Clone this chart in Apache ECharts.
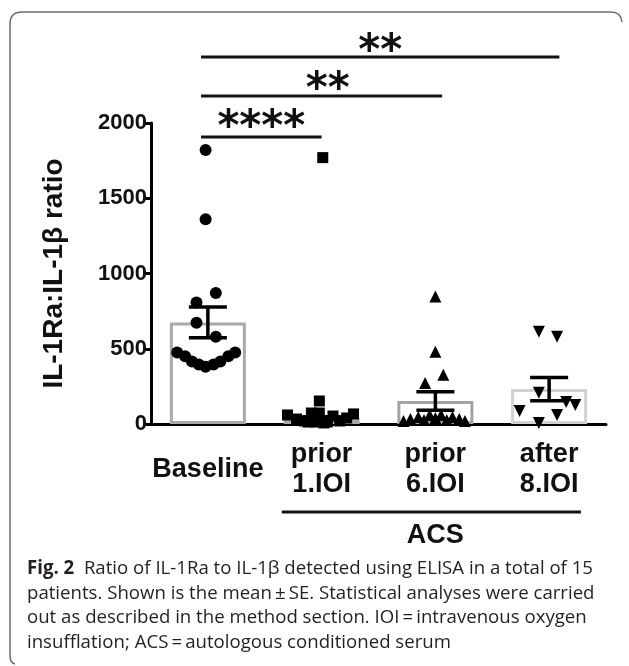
<!DOCTYPE html>
<html><head><meta charset="utf-8">
<script src="https://cdn.jsdelivr.net/npm/echarts@6/dist/echarts.min.js"></script>
<style>html,body{margin:0;padding:0;background:#fff;}#chart{width:629px;height:666px;}</style>
</head><body><div id="chart"></div>
<script>
// ---- data ----
const categories = ['Baseline', 'prior\n1.IOI', 'prior\n6.IOI', 'after\n8.IOI'];
const yTicks = [0, 500, 1000, 1500, 2000];
const means = [675, 40, 153, 232];
const stdErr = [102, 8, 62, 77];
const baselineValues = [1820, 1360, 870, 807, 673, 580, 475, 450, 415, 395, 380, 395, 415, 450, 475];
const baselineJitter = [-0.02, -0.02, 0.07, -0.10, -0.10, 0.07, -0.27, -0.20, -0.14, -0.08, -0.02, 0.05, 0.11, 0.18, 0.24];
const prior1Values = [1770, 153, 73, 73, 60, 33, 20, 13, 53, 20, 40, 67, 13, 7, 13];
const prior1Jitter = [0.01, -0.02, -0.09, -0.02, -0.30, -0.22, -0.15, 0.05, 0.10, 0.16, 0.22, 0.28, -0.05, 0.02, -0.12];
const prior6Values = [847, 480, 273, 327, 20, 33, 47, 27, 60, 40, 60, 27, 47, 33, 20];
const prior6Jitter = [0.0, 0.0, -0.09, 0.07, -0.28, -0.22, -0.15, -0.10, -0.05, 0.0, 0.05, 0.10, 0.15, 0.21, 0.26];
const after8Values = [613, 580, 207, 87, 147, 127, 60, 7];
const after8Jitter = [-0.09, 0.07, -0.09, -0.26, 0.15, 0.23, 0.07, -0.09];
const comparisons = [
  { from: 0, to: 1, label: '****' },
  { from: 0, to: 2, label: '**' },
  { from: 0, to: 3, label: '**' }
];
const groupLabel = 'ACS';
const yName = 'IL-1Ra:IL-1β ratio';
const captionBold = 'Fig. 2';
const captionLines = [
  '  Ratio of IL-1Ra to IL-1β detected using ELISA in a total of 15',
  'patients. Shown is the mean\u2009±\u2009SE. Statistical analyses were carried',
  'out as described in the method section. IOI\u2009=\u2009intravenous oxygen',
  'insufflation; ACS\u2009=\u2009autologous conditioned serum'
];

// ---- chart ----
const chart = echarts.init(document.getElementById('chart'), null, { renderer: 'canvas' });
const FONT = '"Liberation Sans", Arial, sans-serif';
const barBorders = ['#a9a9a9', '#a9a9a9', '#a3a3a3', '#d2d2d2'];

function pts(vals, jit, idx) { return vals.map((v, i) => [idx + jit[i], v]); }

const scatterCommon = {
  type: 'scatter', xAxisIndex: 1, yAxisIndex: 0, z: 5,
  itemStyle: { color: '#000', opacity: 1 }, emphasis: { disabled: true }, silent: true
};

chart.setOption({
  animation: false,
  backgroundColor: '#fff',
  grid: { left: 151, top: 123, width: 455, height: 301 },
  xAxis: [
    {
      type: 'category', data: categories,
      axisLine: { show: true, lineStyle: { color: '#000', width: 3 } },
      axisTick: { show: false },
      axisLabel: {
        color: '#111', fontFamily: FONT, fontWeight: 'bold', fontSize: 27,
        lineHeight: 30, margin: 46, verticalAlign: 'middle', interval: 0
      },
      splitLine: { show: false }
    },
    { type: 'value', min: -0.5, max: 3.5, show: false }
  ],
  yAxis: {
    type: 'value', min: yTicks[0], max: yTicks[yTicks.length - 1], interval: yTicks[1] - yTicks[0],
    axisLine: { show: true, onZero: false, lineStyle: { color: '#000', width: 3 } },
    axisTick: { show: true, length: 8, lineStyle: { color: '#000', width: 3 } },
    axisLabel: { color: '#111', fontFamily: FONT, fontWeight: 'bold', fontSize: 22, margin: 4, formatter: v => String(v) },
    splitLine: { show: false },
    name: yName, nameLocation: 'middle', nameGap: 83, nameRotate: 90,
    nameTextStyle: { color: '#111', fontFamily: FONT, fontWeight: 'bold', fontSize: 28 }
  },
  series: [
    {
      type: 'bar', xAxisIndex: 0, barWidth: 76, z: 1, silent: true,
      data: means.map((m, i) => ({ value: m, itemStyle: { color: '#fff', borderColor: barBorders[i], borderWidth: 3 } }))
    },
    {
      type: 'custom', xAxisIndex: 0, z: 6, silent: true,
      data: means.map((m, i) => [i, m, stdErr[i]]),
      encode: { x: 0, y: 1 },
      renderItem: function (params, api) {
        const i = api.value(0), m = api.value(1), s = api.value(2);
        const top = api.coord([i, m + s]);
        const bot = api.coord([i, m - s]);
        const hw = 19;
        const st = { stroke: '#000', lineWidth: 3.5 };
        return {
          type: 'group', children: [
            { type: 'line', shape: { x1: top[0], y1: top[1], x2: bot[0], y2: bot[1] }, style: st },
            { type: 'line', shape: { x1: top[0] - hw, y1: top[1], x2: top[0] + hw, y2: top[1] }, style: st },
            { type: 'line', shape: { x1: bot[0] - hw, y1: bot[1], x2: bot[0] + hw, y2: bot[1] }, style: st }
          ]
        };
      }
    },
    Object.assign({}, scatterCommon, { symbol: 'circle', symbolSize: 12, data: pts(baselineValues, baselineJitter, 0) }),
    Object.assign({}, scatterCommon, { symbol: 'rect', symbolSize: 11, data: pts(prior1Values, prior1Jitter, 1) }),
    Object.assign({}, scatterCommon, { symbol: 'triangle', symbolSize: 12, data: pts(prior6Values, prior6Jitter, 2) }),
    Object.assign({}, scatterCommon, { symbol: 'triangle', symbolRotate: 180, symbolSize: 12, data: pts(after8Values, after8Jitter, 3) })
  ]
});

// ---- annotations (brackets, group label, frame, caption) ----
const px = v => chart.convertToPixel({ xAxisIndex: 1 }, v);
const graphics = [];
const bracketY = [137, 96, 57];
const starY = [118, 80, 42];
const bracketEnd = [1.0, 2.06, 3.09];
comparisons.forEach((c, k) => {
  const x1 = px(c.from - 0.06), x2 = px(bracketEnd[k]);
  graphics.push({ type: 'line', shape: { x1: x1, y1: bracketY[k], x2: x2, y2: bracketY[k] }, style: { stroke: '#111', lineWidth: 3 }, silent: true });
  graphics.push({
    type: 'text', x: (x1 + x2) / 2 + (k === 1 ? 6 : 0), y: starY[k] + 11,
    style: { text: c.label, fill: '#111', font: 'bold 42px "DejaVu Sans", sans-serif', align: 'center', verticalAlign: 'middle' }, silent: true
  });
});
// ACS group line & label
const gx1 = px(0.65), gx2 = px(3.28);
graphics.push({ type: 'line', shape: { x1: gx1, y1: 512, x2: gx2, y2: 512 }, style: { stroke: '#111', lineWidth: 3 }, silent: true });
graphics.push({ type: 'text', x: px(2.0), y: 536, style: { text: groupLabel, fill: '#111', font: 'bold 27px "Liberation Sans", Arial, sans-serif', align: 'center', verticalAlign: 'middle' }, silent: true });
// frame (rounded corners on top-left, top-right, bottom-left)
const frameStyle = { stroke: '#6a6a6a', lineWidth: 1.5, fill: null };
graphics.push({ type: 'line', silent: true, shape: { x1: 10, y1: 24, x2: 10, y2: 655 }, style: frameStyle });
graphics.push({ type: 'line', silent: true, shape: { x1: 22, y1: 12, x2: 611, y2: 12 }, style: frameStyle });
graphics.push({ type: 'bezierCurve', silent: true, shape: { x1: 10, y1: 24, cpx1: 10, cpy1: 12, x2: 22, y2: 12 }, style: frameStyle });
graphics.push({ type: 'bezierCurve', silent: true, shape: { x1: 611, y1: 12, cpx1: 621, cpy1: 12, x2: 622, y2: 22 }, style: frameStyle });
graphics.push({ type: 'bezierCurve', silent: true, shape: { x1: 10, y1: 655, cpx1: 10, cpy1: 663, x2: 15, y2: 664 }, style: frameStyle });
// caption
const CAP_SIZE = 19;
const capFont = CAP_SIZE + 'px "Open Sans", "Noto Sans", sans-serif';
const capBold = 'bold ' + capFont;
const ctx = document.createElement('canvas').getContext('2d');
ctx.font = capBold; const wBold = ctx.measureText(captionBold).width;
ctx.font = capFont; const wLine1 = wBold + ctx.measureText(captionLines[0]).width;
const scaleX = 566 / wLine1;
const capX = 27, capY0 = 569, capDY = 24.5;
const capChildren = [];
capChildren.push({ type: 'text', x: 0, y: 0, style: { text: captionBold, font: capBold, fill: '#231f20', verticalAlign: 'middle' } });
capChildren.push({ type: 'text', x: wBold, y: 0, style: { text: captionLines[0], font: capFont, fill: '#231f20', verticalAlign: 'middle' } });
for (let i = 1; i < captionLines.length; i++) {
  capChildren.push({ type: 'text', x: 0, y: i * capDY, style: { text: captionLines[i], font: capFont, fill: '#231f20', verticalAlign: 'middle' } });
}
graphics.push({ type: 'group', x: capX, y: capY0, scaleX: scaleX, scaleY: 1, silent: true, children: capChildren });

chart.setOption({ graphic: graphics });
</script>
</body></html>
